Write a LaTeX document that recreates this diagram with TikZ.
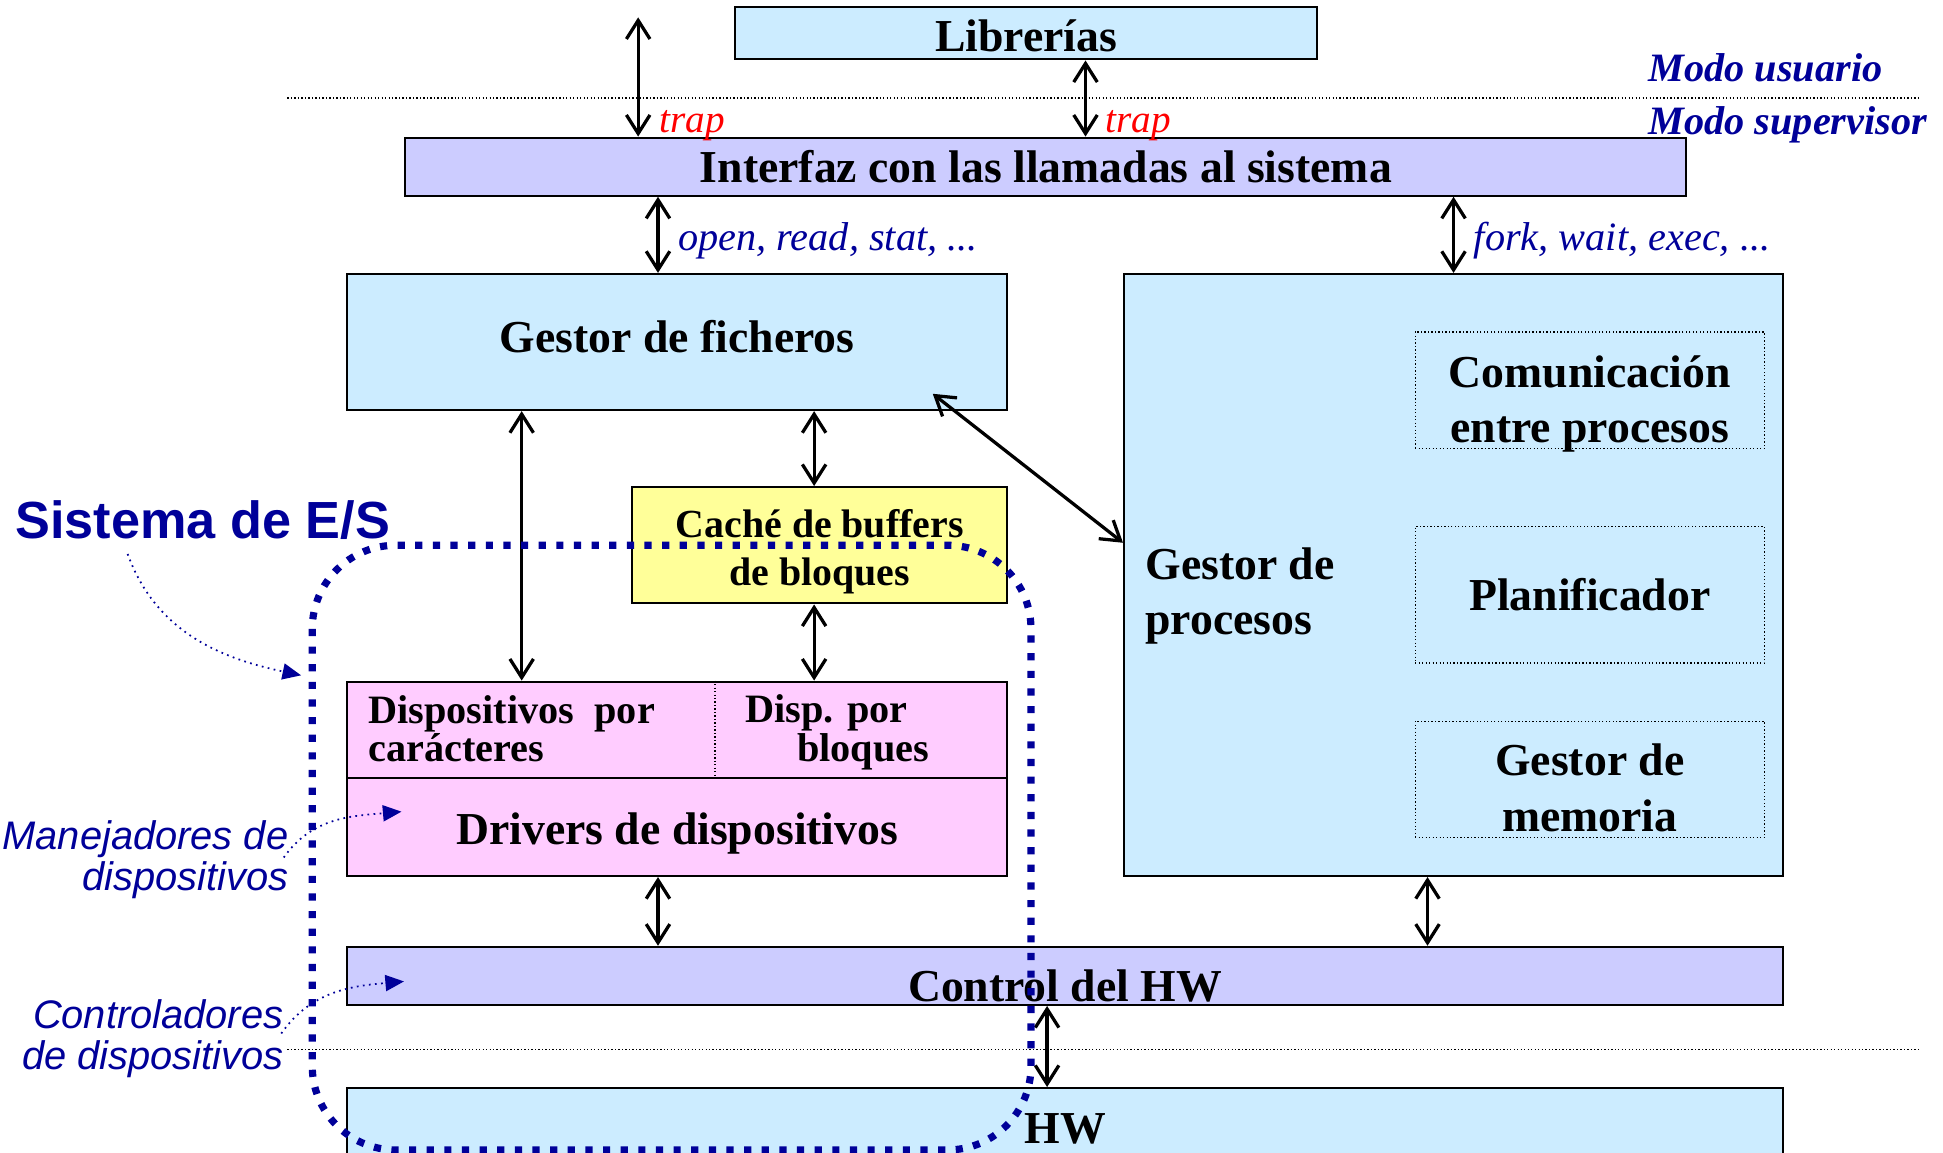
\documentclass[tikz,border=0pt]{standalone}
\usepackage{fontspec}
\setmainfont{Liberation Serif}
\setsansfont{Liberation Sans}
\usetikzlibrary{arrows.meta}
\definecolor{azulclaro}{HTML}{CCECFF}
\definecolor{lila}{HTML}{CCCCFF}
\definecolor{amarillo}{HTML}{FFFF99}
\definecolor{rosa}{HTML}{FFCCFF}
\definecolor{marino}{HTML}{000099}
\newcommand{\fgrande}{\fontsize{21}{25.5}\selectfont\bfseries}
\newcommand{\fmedio}{\fontsize{18.3}{22}\selectfont\bfseries}
\newcommand{\fdisp}{\fontsize{18.5}{17.5}\selectfont\bfseries}
\tikzset{caja/.style={draw, line width=0.9pt, inner sep=0pt, align=center, font=\fgrande},
    subcaja/.style={draw, densely dotted, line width=0.6pt, inner sep=0pt,
        minimum width=5.64cm, align=center, font=\fgrande},
    texto/.style={inner sep=0pt, align=center, font=\fgrande},
    flecha/.style={{Straight Barb[length=0.3cm,width=0.38cm]}-{Straight Barb[length=0.3cm,width=0.38cm]},
        line width=1.5pt},
    separa/.style={densely dotted, line width=0.6pt},
    modo/.style={marino, anchor=west, inner sep=0pt, font=\fontsize{18.5}{20}\selectfont\bfseries\itshape},
    trap/.style={red, anchor=west, inner sep=0pt, font=\fontsize{18}{20}\selectfont\itshape},
    llamada/.style={marino, anchor=west, inner sep=0pt, font=\fontsize{18.5}{20}\selectfont\itshape},
    nota/.style={marino, anchor=east, inner sep=0pt, align=right,
        font=\fontsize{18.3}{18.8}\selectfont\sffamily\itshape},
    guia/.style={marino, dotted, line width=0.8pt, -{Triangle[length=0.3cm,width=0.26cm]}},
    esborde/.style={marino, line width=3.3pt, dash pattern=on 3.3pt off 4.8pt, rounded corners=1.35cm},
    }
\begin{document}
\begin{tikzpicture}[x=0.02cm, y=-0.02cm]
\useasboundingbox (0,0) rectangle (1568,930);
\clip (0,0) rectangle (1568,930);
% modos
\draw[separa] (232,79) -- (1548,79);
\draw[separa] (232,847) -- (1548,847);
\node[modo] (usuario) at (1330,55) {Modo usuario};
\node[modo] (supervisor) at (1330,101) {Modo supervisor};
% cajas
\node[caja, fill=azulclaro, minimum width=9.4cm, minimum height=0.84cm] (libr) at (828,27) {};
\node[texto] (tlibr) at (828,29) {Librerías};
\node[caja, fill=lila, minimum width=20.68cm, minimum height=0.94cm] (interfaz) at (844,134.5)
    {Interfaz con las llamadas al sistema};
\node[caja, fill=azulclaro, minimum width=10.66cm, minimum height=2.2cm] (ficheros) at (546.5,276) {};
\node[texto] (tfich) at (546.5,272) {Gestor de ficheros};
\node[caja, fill=azulclaro, minimum width=10.64cm, minimum height=9.72cm] (procesos) at (1173,464) {};
\node[texto, anchor=west, align=left] (tproc) at (924,481) {Gestor de\\procesos};
\node[subcaja, minimum height=1.88cm] (comunic) at (1283,315) {};
\node[texto] (tcomunic) at (1283,326) {Comunicación\\entre procesos};
\node[subcaja, minimum height=2.2cm] (planif) at (1283,480) {Planificador};
\node[subcaja, minimum height=1.88cm] (memoria) at (1283,629) {};
\node[texto] (tmemoria) at (1283,636) {Gestor de\\memoria};
\node[caja, fill=amarillo, minimum width=6.06cm, minimum height=1.88cm] (cache) at (661.5,440) {};
\node[texto, font=\fmedio] (tcache) at (661.5,445) {Caché de buffers\\de bloques};
\node[caja, fill=rosa, minimum width=10.66cm, minimum height=1.56cm] (disp) at (546.5,589) {};
\draw[densely dotted, line width=0.6pt] (disp.north -| 577,0) -- (disp.south -| 577,0);
\node[texto, font=\fdisp, anchor=west, align=left] (tcar) at (297,588) {Dispositivos~~por\\carácteres};
\node[texto, font=\fdisp, anchor=west, align=left] (tblo) at (601,591) {Disp. por\\\hspace*{0.84cm}bloques};
\node[caja, fill=rosa, minimum width=10.66cm, minimum height=1.58cm] (drivers) at (546.5,667.5) {};
\node[texto] (tdrivers) at (546.5,672.5) {Drivers de dispositivos};
\node[caja, fill=lila, minimum width=23.18cm, minimum height=0.94cm] (control) at (859.5,787.5) {};
\node[texto] (tcontrol) at (859.5,796) {Control del HW};
\node[caja, fill=azulclaro, minimum width=23.18cm, minimum height=1.68cm] (hw) at (859.5,920) {};
\node[texto] (thw) at (859.5,911) {HW};
% llamadas
\coordinate (libre) at (515,14);
\draw[flecha] (libre) -- (interfaz.north -| libre);
\draw[flecha] (libr.south -| 876,0) -- (interfaz.north -| 876,0);
\node[trap] (trap1) at (532,101) {trap};
\node[trap] (trap2) at (892,101) {trap};
\draw[flecha] (interfaz.south -| 531,0) -- (ficheros.north -| 531,0);
\node[llamada] (lfich) at (547,194) {open, read, stat, ...};
\draw[flecha] (interfaz.south -| procesos.north) -- (procesos.north);
\node[llamada] (lproc) at (1189,194) {fork, wait, exec, ...};
\draw[flecha] ([shift={(-61,-14)}]ficheros.south east) -- (procesos.west |- 0,438);
\draw[flecha] (ficheros.south -| 421,0) -- (disp.north -| 421,0);
\draw[flecha] (ficheros.south -| 657,0) -- (cache.north -| 657,0);
\draw[flecha] (cache.south -| 657,0) -- (disp.north -| 657,0);
\draw[flecha] (drivers.south -| 531,0) -- (control.north -| 531,0);
\draw[flecha] (procesos.south -| 1152,0) -- (control.north -| 1152,0);
\draw[flecha] (control.south -| 845,0) -- (hw.north -| 845,0);
% sistema de E/S
\draw[esborde] (252,440) rectangle (832,928);
\node[marino, anchor=west, inner sep=0pt, font=\fontsize{24}{26}\selectfont\sffamily\bfseries] (es) at (12,420)
    {Sistema de E/S};
\node[nota] (manej) at (233,694) {Manejadores de\\dispositivos};
\node[nota] (contr) at (229,838) {Controladores\\de dispositivos};
\coordinate (pES) at (243,545);
\coordinate (pDrv) at (324,655);
\coordinate (pCtl) at (326,792);
\draw[guia] ([shift={(91,11)}]es.south west) to[out=-70, in=168] (pES);
\draw[guia] ([shift={(-4,-2)}]manej.east) to[out=55, in=185] (pDrv);
\draw[guia] ([shift={(-2,-4)}]contr.east) to[out=55, in=185] (pCtl);
\end{tikzpicture}
\end{document}
